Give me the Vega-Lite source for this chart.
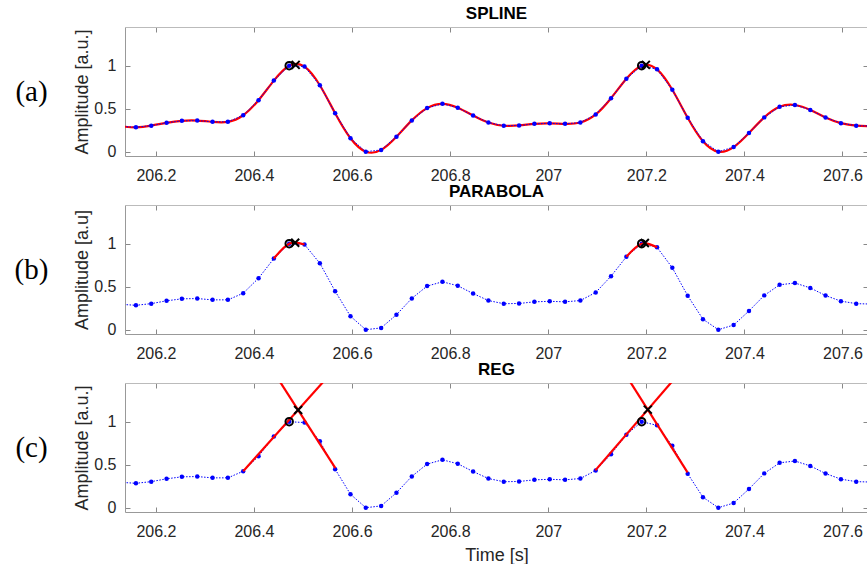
{
  "$schema": "https://vega.github.io/schema/vega-lite/v6.json",
  "padding": {"left": 14, "top": 4, "right": 0, "bottom": 0},
  "background": "white",
  "datasets": {
    "samples": [
      {"t": 206.1280, "amp": 0.295}, {"t": 206.1593, "amp": 0.284}, {"t": 206.1905, "amp": 0.303},
      {"t": 206.2218, "amp": 0.336}, {"t": 206.2530, "amp": 0.359}, {"t": 206.2843, "amp": 0.362},
      {"t": 206.3155, "amp": 0.347}, {"t": 206.3468, "amp": 0.347}, {"t": 206.3780, "amp": 0.424},
      {"t": 206.4093, "amp": 0.599}, {"t": 206.4405, "amp": 0.827}, {"t": 206.4718, "amp": 1.0},
      {"t": 206.5030, "amp": 0.99}, {"t": 206.5343, "amp": 0.773}, {"t": 206.5655, "amp": 0.447},
      {"t": 206.5968, "amp": 0.156}, {"t": 206.6280, "amp": 0.0}, {"t": 206.6593, "amp": 0.021},
      {"t": 206.6905, "amp": 0.174}, {"t": 206.7218, "amp": 0.364}, {"t": 206.7530, "amp": 0.507},
      {"t": 206.7843, "amp": 0.557}, {"t": 206.8155, "amp": 0.511}, {"t": 206.8468, "amp": 0.42},
      {"t": 206.8780, "amp": 0.339}, {"t": 206.9093, "amp": 0.302}, {"t": 206.9405, "amp": 0.305},
      {"t": 206.9718, "amp": 0.324}, {"t": 207.0030, "amp": 0.33}, {"t": 207.0343, "amp": 0.324},
      {"t": 207.0655, "amp": 0.339}, {"t": 207.0968, "amp": 0.433}, {"t": 207.1280, "amp": 0.622},
      {"t": 207.1593, "amp": 0.848}, {"t": 207.1905, "amp": 1.0}, {"t": 207.2218, "amp": 0.958},
      {"t": 207.2530, "amp": 0.72}, {"t": 207.2843, "amp": 0.395}, {"t": 207.3155, "amp": 0.122},
      {"t": 207.3468, "amp": 0.0}, {"t": 207.3780, "amp": 0.054}, {"t": 207.4093, "amp": 0.218},
      {"t": 207.4405, "amp": 0.399}, {"t": 207.4718, "amp": 0.522}, {"t": 207.5030, "amp": 0.543},
      {"t": 207.5343, "amp": 0.486}, {"t": 207.5655, "amp": 0.397}, {"t": 207.5968, "amp": 0.332},
      {"t": 207.6280, "amp": 0.303}, {"t": 207.6593, "amp": 0.298}
    ],
    "parabola": [
      {"seg": "p1", "t": 206.4405, "amp": 0.827}, {"seg": "p1", "t": 206.4718, "amp": 1.0}, {"seg": "p1", "t": 206.5030, "amp": 0.99},
      {"seg": "p2", "t": 207.1593, "amp": 0.848}, {"seg": "p2", "t": 207.1905, "amp": 1.0}, {"seg": "p2", "t": 207.2218, "amp": 0.958}
    ],
    "reg": [
      {"seg": "r1", "t": 206.378, "amp": 0.424}, {"seg": "r1", "t": 206.547, "amp": 1.5},
      {"seg": "f1", "t": 206.449, "amp": 1.5}, {"seg": "f1", "t": 206.566, "amp": 0.461},
      {"seg": "r2", "t": 207.096, "amp": 0.434}, {"seg": "r2", "t": 207.2575, "amp": 1.5},
      {"seg": "f2", "t": 207.163, "amp": 1.5}, {"seg": "f2", "t": 207.284, "amp": 0.411}
    ],
    "peaks": [
      {"t": 206.4718, "amp": 1.0}, {"t": 207.1905, "amp": 1.0}
    ],
    "xmarks": [
      {"method": "SPLINE", "t": 206.485, "amp": 1.01}, {"method": "SPLINE", "t": 207.199, "amp": 1.01},
      {"method": "PARABOLA", "t": 206.484, "amp": 1.012}, {"method": "PARABOLA", "t": 207.197, "amp": 1.008},
      {"method": "REG", "t": 206.49, "amp": 1.136}, {"method": "REG", "t": 207.203, "amp": 1.14}
    ]
  },
  "vconcat": [
    {
      "title": "SPLINE",
      "width": 743, "height": 129,
      "layer": [
        {"data": {"name": "samples"},
         "mark": {"type": "line", "interpolate": "natural", "color": "#ff0000", "strokeWidth": 2.2, "clip": true},
         "encoding": {
           "x": {"field": "t", "type": "quantitative", "scale": {"domain": [206.137, 207.652], "nice": false, "zero": false},
                 "axis": {"orient": "bottom", "values": [206.2, 206.4, 206.6, 206.8, 207, 207.2, 207.4, 207.6], "format": "~g", "title": null}},
           "y": {"field": "amp", "type": "quantitative", "scale": {"domain": [-0.05, 1.45], "nice": false, "zero": false},
                 "axis": {"orient": "left", "values": [0, 0.5, 1], "format": "~g", "title": "Amplitude [a.u.]", "titlePadding": 2}}
         }},
        {"data": {"name": "samples"},
         "mark": {"type": "line", "color": "#0000ff", "strokeWidth": 1, "strokeDash": [1.5, 1.5], "clip": true},
         "encoding": {
           "x": {"field": "t", "type": "quantitative", "axis": {"orient": "top", "values": [206.2, 206.4, 206.6, 206.8, 207, 207.2, 207.4, 207.6], "labels": false, "title": null, "domainColor": "#bbb"}},
           "y": {"field": "amp", "type": "quantitative", "axis": {"orient": "right", "values": [0, 0.5, 1], "labels": false, "title": null, "domainColor": "#bbb"}}
         }},
        {"data": {"name": "samples"},
         "mark": {"type": "point", "filled": true, "color": "#0000ff", "size": 20, "opacity": 1, "clip": true},
         "encoding": {
           "x": {"field": "t", "type": "quantitative", "axis": null},
           "y": {"field": "amp", "type": "quantitative", "axis": null}
         }},
        {"data": {"name": "peaks"},
         "mark": {"type": "point", "shape": "circle", "filled": false, "color": "#000000", "strokeWidth": 2, "size": 55, "opacity": 1},
         "encoding": {
           "x": {"field": "t", "type": "quantitative", "axis": null},
           "y": {"field": "amp", "type": "quantitative", "axis": {"orient": "left", "labels": false, "ticks": false, "domain": false, "title": "(a)", "titleAngle": 0, "titleFont": "Liberation Serif", "titleFontSize": 29, "titleColor": "#000000", "titleAlign": "center", "titleBaseline": "middle", "titlePadding": 94}}
         }},
        {"data": {"name": "xmarks"},
         "transform": [{"filter": "datum.method === 'SPLINE'"}],
         "mark": {"type": "point", "shape": "M-1,-1L1,1M1,-1L-1,1", "filled": false, "color": "#000000", "strokeWidth": 2, "size": 64, "opacity": 1},
         "encoding": {
           "x": {"field": "t", "type": "quantitative", "axis": null},
           "y": {"field": "amp", "type": "quantitative", "axis": null}
         }}
      ],
      "resolve": {"axis": {"x": "independent", "y": "independent"}}
    },
    {
      "title": "PARABOLA",
      "width": 743, "height": 129,
      "layer": [
        {"data": {"name": "samples"},
         "mark": {"type": "line", "color": "#0000ff", "strokeWidth": 1, "strokeDash": [1.5, 1.5], "clip": true},
         "encoding": {
           "x": {"field": "t", "type": "quantitative", "scale": {"domain": [206.137, 207.652], "nice": false, "zero": false},
                 "axis": {"orient": "bottom", "values": [206.2, 206.4, 206.6, 206.8, 207, 207.2, 207.4, 207.6], "format": "~g", "title": null}},
           "y": {"field": "amp", "type": "quantitative", "scale": {"domain": [-0.05, 1.45], "nice": false, "zero": false},
                 "axis": {"orient": "left", "values": [0, 0.5, 1], "format": "~g", "title": "Amplitude [a.u]", "titlePadding": 2}}
         }},
        {"data": {"name": "samples"},
         "mark": {"type": "point", "filled": true, "color": "#0000ff", "size": 20, "opacity": 1, "clip": true},
         "encoding": {
           "x": {"field": "t", "type": "quantitative", "axis": {"orient": "top", "values": [206.2, 206.4, 206.6, 206.8, 207, 207.2, 207.4, 207.6], "labels": false, "title": null, "domainColor": "#bbb"}},
           "y": {"field": "amp", "type": "quantitative", "axis": {"orient": "right", "values": [0, 0.5, 1], "labels": false, "title": null, "domainColor": "#bbb"}}
         }},
        {"data": {"name": "parabola"},
         "mark": {"type": "line", "interpolate": "natural", "color": "#ff0000", "strokeWidth": 2.2, "clip": true},
         "encoding": {
           "x": {"field": "t", "type": "quantitative", "axis": null},
           "y": {"field": "amp", "type": "quantitative", "axis": null},
           "detail": {"field": "seg"}
         }},
        {"data": {"name": "peaks"},
         "mark": {"type": "point", "shape": "circle", "filled": false, "color": "#000000", "strokeWidth": 2, "size": 55, "opacity": 1},
         "encoding": {
           "x": {"field": "t", "type": "quantitative", "axis": null},
           "y": {"field": "amp", "type": "quantitative", "axis": {"orient": "left", "labels": false, "ticks": false, "domain": false, "title": "(b)", "titleAngle": 0, "titleFont": "Liberation Serif", "titleFontSize": 29, "titleColor": "#000000", "titleAlign": "center", "titleBaseline": "middle", "titlePadding": 94}}
         }},
        {"data": {"name": "xmarks"},
         "transform": [{"filter": "datum.method === 'PARABOLA'"}],
         "mark": {"type": "point", "shape": "M-1,-1L1,1M1,-1L-1,1", "filled": false, "color": "#000000", "strokeWidth": 2, "size": 64, "opacity": 1},
         "encoding": {
           "x": {"field": "t", "type": "quantitative", "axis": null},
           "y": {"field": "amp", "type": "quantitative", "axis": null}
         }}
      ],
      "resolve": {"axis": {"x": "independent", "y": "independent"}}
    },
    {
      "title": "REG",
      "width": 743, "height": 129,
      "layer": [
        {"data": {"name": "samples"},
         "mark": {"type": "line", "color": "#0000ff", "strokeWidth": 1, "strokeDash": [1.5, 1.5], "clip": true},
         "encoding": {
           "x": {"field": "t", "type": "quantitative", "scale": {"domain": [206.137, 207.652], "nice": false, "zero": false},
                 "axis": {"orient": "bottom", "values": [206.2, 206.4, 206.6, 206.8, 207, 207.2, 207.4, 207.6], "format": "~g", "title": "Time [s]", "titlePadding": 7}},
           "y": {"field": "amp", "type": "quantitative", "scale": {"domain": [-0.05, 1.45], "nice": false, "zero": false},
                 "axis": {"orient": "left", "values": [0, 0.5, 1], "format": "~g", "title": "Amplitude [a.u.]", "titlePadding": 2}}
         }},
        {"data": {"name": "samples"},
         "mark": {"type": "point", "filled": true, "color": "#0000ff", "size": 20, "opacity": 1, "clip": true},
         "encoding": {
           "x": {"field": "t", "type": "quantitative", "axis": {"orient": "top", "values": [206.2, 206.4, 206.6, 206.8, 207, 207.2, 207.4, 207.6], "labels": false, "title": null, "domainColor": "#bbb"}},
           "y": {"field": "amp", "type": "quantitative", "axis": {"orient": "right", "values": [0, 0.5, 1], "labels": false, "title": null, "domainColor": "#bbb"}}
         }},
        {"data": {"name": "reg"},
         "mark": {"type": "line", "color": "#ff0000", "strokeWidth": 2.2, "clip": true},
         "encoding": {
           "x": {"field": "t", "type": "quantitative", "axis": null},
           "y": {"field": "amp", "type": "quantitative", "axis": null},
           "detail": {"field": "seg"}
         }},
        {"data": {"name": "peaks"},
         "mark": {"type": "point", "shape": "circle", "filled": false, "color": "#000000", "strokeWidth": 2, "size": 55, "opacity": 1},
         "encoding": {
           "x": {"field": "t", "type": "quantitative", "axis": null},
           "y": {"field": "amp", "type": "quantitative", "axis": {"orient": "left", "labels": false, "ticks": false, "domain": false, "title": "(c)", "titleAngle": 0, "titleFont": "Liberation Serif", "titleFontSize": 29, "titleColor": "#000000", "titleAlign": "center", "titleBaseline": "middle", "titlePadding": 94}}
         }},
        {"data": {"name": "xmarks"},
         "transform": [{"filter": "datum.method === 'REG'"}],
         "mark": {"type": "point", "shape": "M-1,-1L1,1M1,-1L-1,1", "filled": false, "color": "#000000", "strokeWidth": 2, "size": 64, "opacity": 1},
         "encoding": {
           "x": {"field": "t", "type": "quantitative", "axis": null},
           "y": {"field": "amp", "type": "quantitative", "axis": null}
         }}
      ],
      "resolve": {"axis": {"x": "independent", "y": "independent"}}
    }
  ],
  "spacing": 49,
  "bounds": "flush",
  "config": {
    "view": {"stroke": null},
    "axis": {
      "labelFont": "Liberation Sans", "labelFontSize": 16, "labelColor": "#262626",
      "titleFont": "Liberation Sans", "titleFontSize": 18, "titleFontWeight": "normal", "titleColor": "#262626",
      "domainColor": "#999999", "tickColor": "#888888", "tickSize": -5,
      "grid": false, "labelFlush": false, "labelOverlap": false, "titlePadding": 5
    },
    "axisX": {"labelPadding": 16},
    "axisY": {"labelPadding": 14},
    "title": {"font": "Liberation Sans", "fontSize": 17, "fontWeight": "bold", "color": "#000000", "offset": 4, "anchor": "middle"}
  }
}
